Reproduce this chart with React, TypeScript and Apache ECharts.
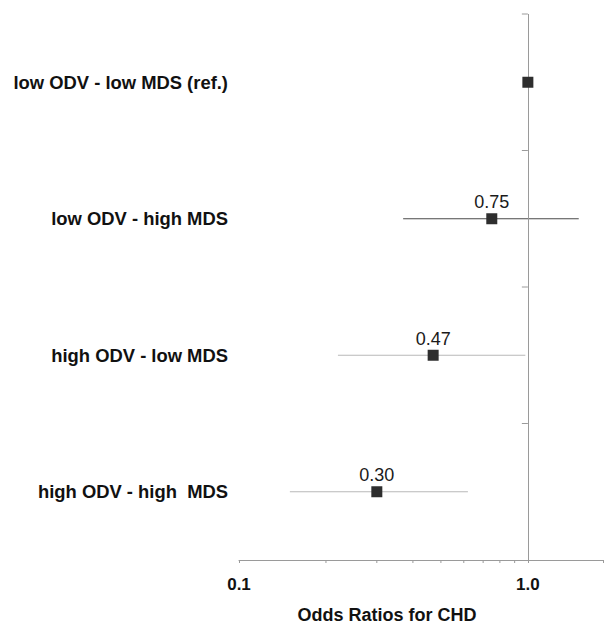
import React, { useEffect, useRef } from "react";
import * as echarts from "echarts";

const categories = [
  "low ODV - low MDS (ref.)",
  "low ODV - high MDS",
  "high ODV - low MDS",
  "high ODV - high  MDS",
];
const oddsRatios = [1.0, 0.75, 0.47, 0.3];
const ciLower: (number | null)[] = [null, 0.37, 0.22, 0.15];
const ciUpper: (number | null)[] = [null, 1.5, 0.98, 0.62];
const pointLabels = ["", "0.75", "0.47", "0.30"];
const majorTickLabels = [0.1, 1.0];
const minorTickValues = [0.2, 0.3, 0.4, 0.5, 0.6, 0.7, 0.8, 0.9];
const xMin = 0.1;
const xMax = 1.82;
const refValue = 1.0;
const axisTitle = "Odds Ratios for CHD";

const ciColors = ["#000000", "#4a4a4a", "#b8b8b8", "#b8b8b8"];
const FONT = "Liberation Sans, Arial, sans-serif";

export default function App() {
  const ref = useRef<HTMLDivElement>(null);
  useEffect(() => {
    if (!ref.current) return;
    const chart = echarts.init(ref.current, null, { renderer: "svg" });
    const ciData = categories
      .map((_, i) => [ciLower[i], ciUpper[i], i])
      .filter((d) => d[0] != null);
    chart.setOption({
      animation: false,
      grid: { left: 239, right: 0, top: 14, bottom: 65, containLabel: false },
      xAxis: {
        type: "log",
        logBase: 10,
        min: xMin,
        max: xMax,
        axisLine: { show: true, lineStyle: { color: "#9a9a9a", width: 1 } },
        axisTick: { show: true, length: 3, lineStyle: { color: "#9a9a9a" } },
        splitLine: { show: false },
        axisLabel: {
          fontFamily: FONT,
          fontWeight: "bold",
          fontSize: 17,
          color: "#111",
          margin: 16,
          formatter: (v: number) =>
            majorTickLabels.some((t) => Math.abs(t - v) < 1e-6) ? v.toFixed(1) : "",
        },
      },
      yAxis: {
        type: "category",
        inverse: true,
        data: categories,
        axisLine: { show: false },
        axisTick: { show: false },
        splitLine: { show: false },
        axisLabel: {
          fontFamily: FONT,
          fontWeight: "bold",
          fontSize: 18.4,
          color: "#111",
          margin: 11,
        },
      },
      graphic: [
        {
          type: "text",
          x: 387,
          y: 615,
          style: {
            text: axisTitle,
            fontFamily: FONT,
            fontWeight: "bold",
            fontSize: 18,
            fill: "#111",
            textAlign: "center",
            textVerticalAlign: "middle",
          },
        },
      ],
      series: [
        {
          type: "custom",
          clip: false,
          z: 1,
          silent: true,
          data: categories.map((_, i) => [refValue, i]),
          renderItem: (params: any, api: any) => {
            const idx = api.value(1);
            const c = api.coord([api.value(0), idx]);
            const band = api.size([0, 1])[1];
            return {
              type: "line",
              shape: { x1: c[0] - 6, y1: c[1] - band / 2, x2: c[0], y2: c[1] - band / 2 },
              style: { stroke: "#9a9a9a", lineWidth: 1 },
            };
          },
        },
        {
          type: "custom",
          clip: false,
          z: 1,
          silent: true,
          data: minorTickValues.map((v) => [v, 0]),
          renderItem: (params: any, api: any) => {
            const c = api.coord([api.value(0), 0]);
            const bottom = params.coordSys.y + params.coordSys.height;
            return {
              type: "line",
              shape: { x1: c[0], y1: bottom, x2: c[0], y2: bottom + 3 },
              style: { stroke: "#9a9a9a", lineWidth: 1 },
            };
          },
        },
        {
          type: "custom",
          z: 2,
          silent: true,
          data: ciData,
          renderItem: (params: any, api: any) => {
            const idx = api.value(2);
            const a = api.coord([api.value(0), idx]);
            const b = api.coord([api.value(1), idx]);
            return {
              type: "line",
              shape: { x1: a[0], y1: a[1], x2: b[0], y2: b[1] },
              style: { stroke: ciColors[idx], lineWidth: 1.2 },
            };
          },
        },
        {
          type: "scatter",
          z: 5,
          symbol: "rect",
          symbolSize: 11,
          data: oddsRatios.map((v, i) => [v, i]),
          itemStyle: { color: "#2e2e2e", opacity: 1 },
          label: {
            show: true,
            position: "top",
            distance: 2,
            fontFamily: FONT,
            fontSize: 18,
            color: "#1a1a1a",
            formatter: (p: any) => pointLabels[p.dataIndex],
          },
          markLine: {
            silent: true,
            symbol: "none",
            label: { show: false },
            lineStyle: { color: "#9a9a9a", width: 1, type: "solid" },
            data: [{ xAxis: refValue }],
          },
        },
      ],
    });
    return () => chart.dispose();
  }, []);
  return (
    <div
      ref={ref}
      style={{ position: "absolute", left: 0, top: 0, width: 606, height: 625, background: "#fff" }}
    />
  );
}
